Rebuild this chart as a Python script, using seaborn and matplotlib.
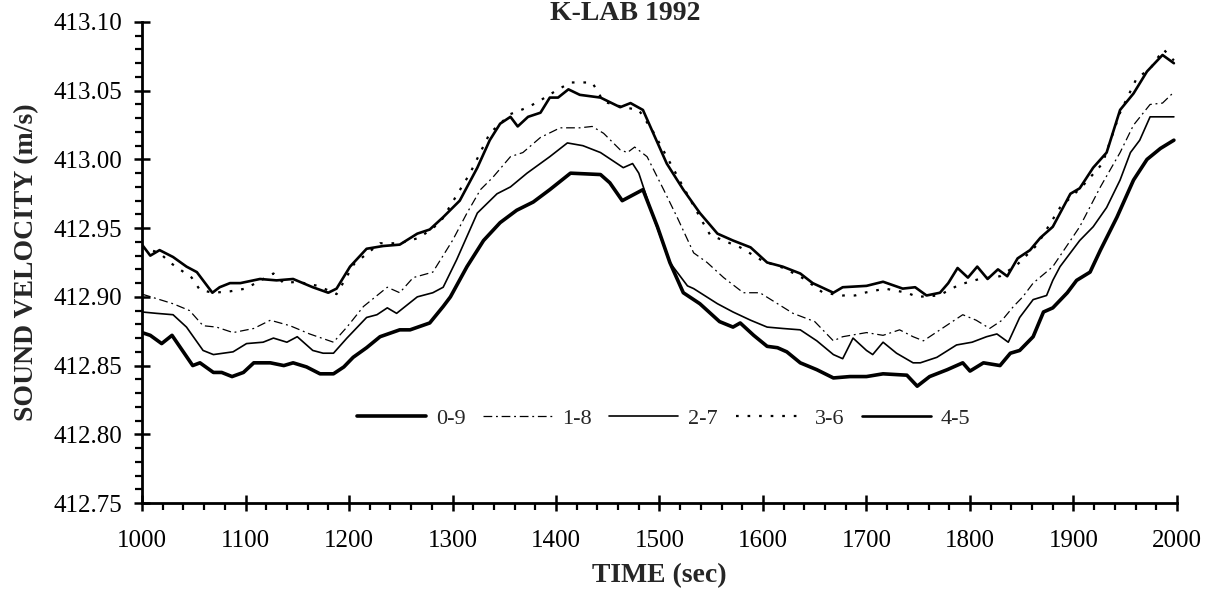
import matplotlib
matplotlib.use("Agg")
import matplotlib.pyplot as plt
from matplotlib.ticker import MultipleLocator, FormatStrFormatter
import seaborn as sns
import pandas as pd

# ---- data (time in s, sound velocity in m/s) ----
t_09 = [1000, 1008, 1019, 1029, 1039, 1049, 1056, 1069, 1077, 1087, 1098, 1108, 1124, 1137, 1146,
        1159, 1172, 1185, 1195, 1204, 1217, 1230, 1249, 1259, 1278, 1291, 1298, 1314, 1330, 1346,
        1362, 1378, 1394, 1414, 1443, 1452, 1464, 1484, 1498, 1510, 1523, 1539, 1558, 1571, 1578,
        1591, 1604, 1614, 1623, 1636, 1652, 1668, 1684, 1700, 1716, 1739, 1749, 1761, 1778, 1793,
        1800, 1813, 1829, 1839, 1848, 1861, 1871, 1880, 1894, 1903, 1916, 1926, 1942, 1958, 1971,
        1984, 1997]
v_09 = [412.874, 412.872, 412.866, 412.872, 412.861, 412.850, 412.852, 412.845, 412.845, 412.842,
        412.845, 412.852, 412.852, 412.850, 412.852, 412.849, 412.844, 412.844, 412.849, 412.856,
        412.863, 412.871, 412.876, 412.876, 412.881, 412.893, 412.900, 412.922, 412.941, 412.954,
        412.963, 412.969, 412.978, 412.990, 412.989, 412.983, 412.970, 412.978, 412.951, 412.925,
        412.903, 412.895, 412.882, 412.878, 412.881, 412.872, 412.864, 412.863, 412.860, 412.852,
        412.847, 412.841, 412.842, 412.842, 412.844, 412.843, 412.835, 412.842, 412.847, 412.852,
        412.846, 412.852, 412.850, 412.859, 412.861, 412.871, 412.889, 412.892, 412.903, 412.912,
        412.918, 412.934, 412.958, 412.985, 413.000, 413.008, 413.014]

t_18 = [1000, 1030, 1046, 1059, 1072, 1088, 1108, 1124, 1143, 1162, 1185, 1198, 1214, 1237, 1249,
        1262, 1281, 1300, 1314, 1327, 1339, 1356, 1368, 1385, 1404, 1423, 1435, 1446, 1462, 1469,
        1476, 1488, 1504, 1517, 1533, 1546, 1562, 1581, 1597, 1629, 1650, 1668, 1677, 1700, 1716,
        1732, 1745, 1755, 1771, 1793, 1806, 1819, 1831, 1842, 1851, 1861, 1880, 1906, 1926, 1945,
        1958, 1974, 1986, 1997]
v_18 = [412.902, 412.895, 412.890, 412.879, 412.878, 412.874, 412.877, 412.883, 412.879, 412.873,
        412.867, 412.878, 412.893, 412.907, 412.903, 412.914, 412.918, 412.941, 412.961, 412.978,
        412.987, 413.002, 413.005, 413.016, 413.023, 413.023, 413.024, 413.019, 413.007, 413.005,
        413.009, 413.002, 412.978, 412.958, 412.932, 412.925, 412.914, 412.903, 412.903, 412.888,
        412.882, 412.868, 412.871, 412.874, 412.872, 412.876, 412.871, 412.868, 412.876, 412.887,
        412.883, 412.877, 412.883, 412.893, 412.900, 412.910, 412.922, 412.951, 412.980, 413.005,
        413.025, 413.040, 413.041, 413.049]

t_27 = [1000, 1014, 1030, 1043, 1059, 1069, 1088, 1101, 1117, 1127, 1140, 1150, 1165, 1175, 1185,
        1198, 1217, 1227, 1237, 1246, 1266, 1281, 1291, 1304, 1324, 1343, 1356, 1372, 1394, 1411,
        1426, 1443, 1459, 1465, 1474, 1480, 1494, 1510, 1527, 1533, 1556, 1571, 1588, 1604, 1619,
        1636, 1652, 1668, 1677, 1687, 1700, 1706, 1716, 1729, 1745, 1752, 1768, 1787, 1802, 1816,
        1826, 1837, 1848, 1861, 1874, 1880, 1887, 1906, 1919, 1932, 1945, 1955, 1964, 1974, 1984,
        1997]
v_27 = [412.889, 412.888, 412.887, 412.878, 412.861, 412.858, 412.860, 412.866, 412.867, 412.870,
        412.867, 412.871, 412.861, 412.859, 412.859, 412.870, 412.885, 412.887, 412.892, 412.888,
        412.900, 412.903, 412.907, 412.927, 412.961, 412.975, 412.980, 412.990, 413.002, 413.012,
        413.010, 413.005, 412.997, 412.994, 412.997, 412.990, 412.958, 412.925, 412.908, 412.906,
        412.895, 412.889, 412.883, 412.878, 412.877, 412.876, 412.868, 412.858, 412.855, 412.870,
        412.861, 412.858, 412.867, 412.859, 412.852, 412.852, 412.856, 412.865, 412.867, 412.871,
        412.873, 412.867, 412.885, 412.898, 412.901, 412.912, 412.922, 412.941, 412.951, 412.965,
        412.985, 413.005, 413.014, 413.031, 413.031, 413.031]

t_36 = [1000, 1017, 1027, 1048, 1056, 1069, 1085, 1100, 1127, 1137, 1150, 1170, 1188, 1205, 1230,
        1249, 1268, 1288, 1317, 1336, 1356, 1373, 1385, 1400, 1414, 1425, 1435, 1446, 1465, 1480,
        1494, 1520, 1542, 1549, 1565, 1578, 1600, 1620, 1640, 1658, 1677, 1689, 1698, 1718, 1739,
        1749, 1770, 1790, 1800, 1809, 1829, 1845, 1865, 1887, 1908, 1928, 1945, 1961, 1974, 1987,
        1997]
v_36 = [412.936, 412.932, 412.925, 412.914, 412.905, 412.903, 412.904, 412.906, 412.917, 412.910,
        412.911, 412.908, 412.902, 412.924, 412.939, 412.939, 412.943, 412.954, 412.990, 413.019,
        413.033, 413.038, 413.043, 413.050, 413.056, 413.056, 413.056, 413.042, 413.038, 413.036,
        413.020, 412.984, 412.954, 412.945, 412.940, 412.936, 412.926, 412.921, 412.913, 412.903,
        412.901, 412.901, 412.903, 412.906, 412.903, 412.900, 412.901, 412.909, 412.911, 412.913,
        412.915, 412.923, 412.938, 412.965, 412.980, 412.997, 413.034, 413.059, 413.066, 413.080,
        413.072]

t_45 = [1000, 1008, 1017, 1030, 1043, 1053, 1068, 1075, 1085, 1095, 1114, 1130, 1146, 1165, 1180,
        1188, 1201, 1217, 1233, 1249, 1266, 1278, 1291, 1307, 1324, 1336, 1346, 1356, 1363, 1373,
        1385, 1394, 1402, 1412, 1423, 1443, 1462, 1472, 1484, 1494, 1507, 1523, 1539, 1556, 1571,
        1588, 1604, 1619, 1636, 1648, 1668, 1677, 1700, 1716, 1735, 1747, 1758, 1771, 1779, 1788,
        1798, 1807, 1817, 1827, 1836, 1846, 1858, 1868, 1880, 1897, 1906, 1919, 1932, 1945, 1958,
        1971, 1986, 1997]
v_45 = [412.938, 412.930, 412.934, 412.929, 412.922, 412.918, 412.903, 412.907, 412.910, 412.910,
        412.913, 412.912, 412.913, 412.907, 412.903, 412.906, 412.922, 412.935, 412.937, 412.938,
        412.946, 412.949, 412.958, 412.970, 412.994, 413.014, 413.026, 413.031, 413.024, 413.031,
        413.034, 413.045, 413.045, 413.051, 413.047, 413.045, 413.038, 413.041, 413.036, 413.019,
        412.997, 412.978, 412.961, 412.946, 412.941, 412.936, 412.925, 412.922, 412.917, 412.910,
        412.903, 412.907, 412.908, 412.911, 412.906, 412.907, 412.901, 412.903, 412.910, 412.921,
        412.914, 412.922, 412.913, 412.920, 412.915, 412.928, 412.934, 412.943, 412.951, 412.975,
        412.979, 412.994, 413.005, 413.036, 413.048, 413.064, 413.076, 413.070]

series_labels = ["0-9", "1-8", "2-7", "3-6", "4-5"]
series_t = [t_09, t_18, t_27, t_36, t_45]
series_v = [v_09, v_18, v_27, v_36, v_45]

title_text = "K-LAB 1992"
x_label = "TIME (sec)"
y_label = "SOUND VELOCITY (m/s)"

# ---- styling ----
sns.set_style("ticks")
plt.rcParams["font.family"] = ["Liberation Serif", "DejaVu Serif"]

styles = {
    "0-9": dict(lw=2.6, ls="-"),
    "1-8": dict(lw=0.9, ls=(0, (7, 3, 1.5, 3))),
    "2-7": dict(lw=1.2, ls="-"),
    "3-6": dict(lw=1.6, ls=(0, (1.2, 4))),
    "4-5": dict(lw=1.9, ls="-"),
}

fig = plt.figure(figsize=(12.07, 5.89), dpi=100)
ax = fig.add_axes([142 / 1207, 1 - 503 / 589, (1177 - 142) / 1207, (503 - 22) / 589])

frames = []
for lab, t, v in zip(series_labels, series_t, series_v):
    frames.append(pd.DataFrame({"time": t, "velocity": v, "pair": lab}))
df = pd.concat(frames, ignore_index=True)

handles = []
for lab in series_labels:
    sub = df[df["pair"] == lab]
    st = styles[lab]
    sns.lineplot(data=sub, x="time", y="velocity", ax=ax, color="black",
                 linewidth=st["lw"], linestyle=st["ls"], estimator=None, legend=False)
    handles.append(ax.lines[-1])

ax.set_xlim(1000, 2000)
ax.set_ylim(412.75, 413.10)
ax.xaxis.set_major_locator(MultipleLocator(100))
ax.xaxis.set_minor_locator(MultipleLocator(20))
ax.yaxis.set_major_locator(MultipleLocator(0.05))
ax.yaxis.set_minor_locator(MultipleLocator(0.01))
ax.yaxis.set_major_formatter(FormatStrFormatter("%.2f"))

for side in ["top", "right"]:
    ax.spines[side].set_visible(False)
for side in ["left", "bottom"]:
    ax.spines[side].set_linewidth(2.0)
    ax.spines[side].set_color("black")

ax.tick_params(which="major", direction="inout", length=11, width=1.8, color="black",
               labelsize=18, labelcolor="black")
ax.tick_params(axis="y", which="major", pad=9)
ax.tick_params(axis="x", which="major", pad=14)
ax.tick_params(which="minor", direction="out", length=5, width=1.6, color="black")

ax.set_xlabel(x_label, fontsize=20, fontweight="bold", labelpad=8)
ax.set_ylabel(y_label, fontsize=20, fontweight="bold", labelpad=10)
fig.text(625 / 1207, 1 - 13 / 589, title_text, fontsize=20, fontweight="bold",
         ha="center", va="center")

ax.legend(handles=handles, labels=series_labels, ncol=5, frameon=False, fontsize=16,
          loc="center", bbox_to_anchor=(0.504, 0.175), handlelength=3.1,
          handletextpad=0.45, columnspacing=0.8)

fig.savefig("out.png", dpi=100, facecolor="white")
